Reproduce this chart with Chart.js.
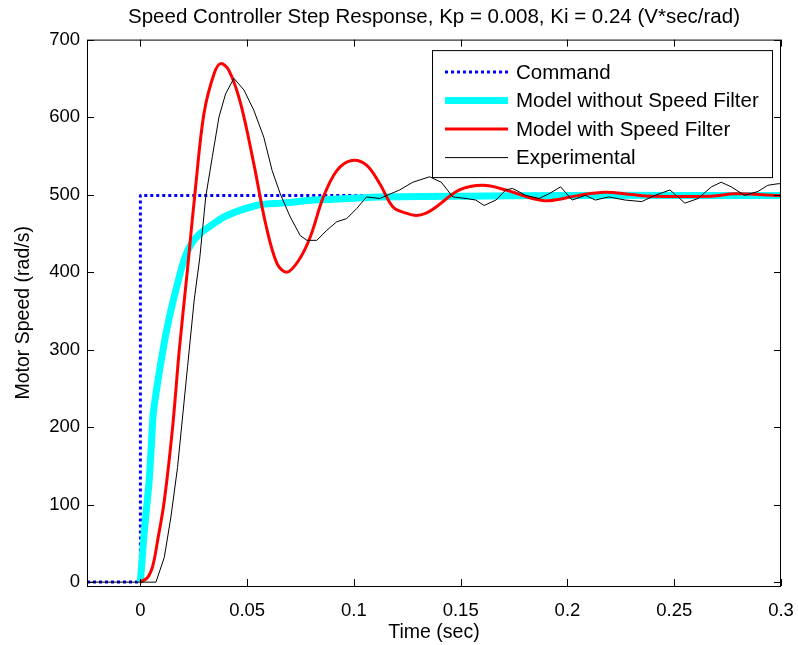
<!DOCTYPE html>
<html>
<head>
<meta charset="utf-8">
<script src="https://cdn.jsdelivr.net/npm/chart.js@4.4.1/dist/chart.umd.min.js"></script>
<style>
  html, body { margin: 0; padding: 0; background: #fff; }
</style>
</head>
<body>
<canvas id="speedChart" width="798" height="645"></canvas>
<script>
// axis ticks
const xTicks = [0, 0.05, 0.1, 0.15, 0.2, 0.25, 0.3];
const xTickLabels = ['0', '0.05', '0.1', '0.15', '0.2', '0.25', '0.3'];
const yTicks = [0, 100, 200, 300, 400, 500, 600, 700];
const yTickLabels = ['0', '100', '200', '300', '400', '500', '600', '700'];

// Command (step)
const cmdX = [-0.025, 0, 0, 0.3];
const cmdY = [0, 0, 499, 499];

// Model without Speed Filter
const noFiltX = [0, 0.002, 0.004, 0.005, 0.006, 0.008, 0.010, 0.012, 0.015, 0.019, 0.021, 0.024, 0.028, 0.033, 0.039, 0.047, 0.056, 0.066, 0.081, 0.097, 0.112, 0.15, 0.2, 0.25, 0.3];
const noFiltY = [0, 71, 127, 170, 217, 256, 290, 321, 359, 402, 420, 437, 450, 460, 471, 480, 487, 489, 493, 495, 497, 498, 499, 499, 499];

// Model with Speed Filter
const filtX = [0, 0.0034, 0.0058, 0.0081, 0.0112, 0.0151, 0.0182, 0.022, 0.026, 0.0298, 0.0345, 0.0376, 0.0415, 0.0469, 0.0531, 0.0586, 0.064, 0.0687, 0.0741, 0.0795, 0.0857, 0.092, 0.099, 0.1059, 0.1121, 0.1183, 0.1245, 0.1292, 0.1338, 0.1385, 0.1494, 0.1603, 0.1711, 0.1836, 0.1913, 0.2053, 0.2177, 0.2301, 0.2394, 0.2674, 0.2783, 0.2985, 0.3];
const filtY = [0, 6, 21, 54, 105, 200, 299, 402, 514, 605, 656, 669, 660, 618, 540, 463, 411, 400, 415, 445, 497, 531, 544, 538, 514, 484, 476, 473, 476, 484, 506, 512, 506, 495, 492, 499, 503, 500, 498, 498, 501, 499, 499];

// Experimental
const expX = [-0.025, 0.0073, 0.0112, 0.0143, 0.0174, 0.0221, 0.0252, 0.0278, 0.0306, 0.0337, 0.0368, 0.0399, 0.0438, 0.0485, 0.0531, 0.0578, 0.0617, 0.0655, 0.0702, 0.0749, 0.078, 0.0826, 0.0873, 0.092, 0.0966, 0.1013, 0.1059, 0.1121, 0.1214, 0.1276, 0.1354, 0.1409, 0.1463, 0.1525, 0.157, 0.161, 0.1665, 0.1711, 0.1742, 0.1805, 0.1867, 0.1913, 0.1968, 0.2022, 0.2084, 0.2131, 0.2193, 0.227, 0.2348, 0.241, 0.248, 0.255, 0.2612, 0.2674, 0.272, 0.2767, 0.283, 0.2892, 0.2938, 0.2985, 0.3];
const expY = [0, 0, 32, 84, 148, 278, 364, 418, 497, 549, 600, 630, 650, 635, 609, 574, 531, 501, 471, 447, 441, 441, 454, 465, 469, 482, 497, 495, 506, 516, 523, 516, 497, 495, 493, 486, 493, 506, 508, 499, 495, 501, 510, 493, 499, 493, 497, 493, 491, 499, 506, 489, 495, 510, 516, 510, 499, 504, 512, 514, 514];

const pts = (xs, ys) => xs.map((x, i) => ({ x: x, y: ys[i] }));
const FONT = "'Liberation Sans', Arial, sans-serif";

// box, inward ticks and legend, MATLAB style
const frameAndLegend = {
    id: 'frameAndLegend',
    afterDatasetsDraw(chart) {
        const { ctx, chartArea: a, scales: { x, y } } = chart;
        ctx.save();
        ctx.strokeStyle = '#000';
        ctx.lineWidth = 1;
        ctx.setLineDash([]);
        ctx.strokeRect(a.left + 0.5, a.top + 0.5, a.right - a.left - 1, a.bottom - a.top);
        ctx.beginPath();
        xTicks.forEach(v => {
            const px = Math.round(x.getPixelForValue(v)) + 0.5;
            ctx.moveTo(px, a.bottom); ctx.lineTo(px, a.bottom - 7);
            ctx.moveTo(px, a.top); ctx.lineTo(px, a.top + 7);
        });
        yTicks.forEach(v => {
            const py = Math.round(y.getPixelForValue(v)) + 0.5;
            ctx.moveTo(a.left, py); ctx.lineTo(a.left + 7, py);
            ctx.moveTo(a.right, py); ctx.lineTo(a.right - 7, py);
        });
        ctx.stroke();

        // legend
        const bx = a.right - 349, by = a.top + 10.5, bw = 340, bh = 127;
        ctx.fillStyle = '#fff';
        ctx.fillRect(bx, by, bw, bh);
        ctx.strokeRect(bx + 0.5, by + 0.5, bw, bh);
        ctx.font = '20.5px ' + FONT;
        ctx.textBaseline = 'middle';
        ctx.textAlign = 'left';
        chart.data.datasets.forEach((ds, i) => {
            const ly = by + 22 + i * 28.5;
            ctx.beginPath();
            ctx.strokeStyle = ds.borderColor;
            ctx.lineWidth = ds.borderWidth;
            ctx.setLineDash(ds.borderDash || []);
            ctx.moveTo(bx + 13, ly);
            ctx.lineTo(bx + 76, ly);
            ctx.stroke();
            ctx.fillStyle = '#000';
            ctx.fillText(ds.label, bx + 84, ly + 1);
        });
        ctx.restore();
    }
};

new Chart(document.getElementById('speedChart'), {
    type: 'line',
    data: {
        datasets: [
            { label: 'Command', data: pts(cmdX, cmdY), borderColor: '#0000ff', borderWidth: 3, borderDash: [3, 3], tension: 0, order: 4 },
            { label: 'Model without Speed Filter', data: pts(noFiltX, noFiltY), borderColor: '#00ffff', borderWidth: 7, tension: 0.2, order: 3 },
            { label: 'Model with Speed Filter', data: pts(filtX, filtY), borderColor: '#ff0000', borderWidth: 3, tension: 0.35, order: 2 },
            { label: 'Experimental', data: pts(expX, expY), borderColor: '#000000', borderWidth: 1, tension: 0, order: 1 }
        ]
    },
    options: {
        responsive: false,
        animation: false,
        events: [],
        elements: { point: { radius: 0 }, line: { borderJoinStyle: 'round' } },
        layout: { padding: { left: 0, right: 17, top: 0, bottom: 0 } },
        plugins: {
            legend: { display: false },
            tooltip: { enabled: false },
            title: {
                display: true,
                fullSize: false,
                text: 'Speed Controller Step Response, Kp = 0.008, Ki = 0.24 (V*sec/rad)',
                color: '#000',
                font: { family: FONT, size: 20.5, weight: 'normal' },
                padding: { top: 5, bottom: 10 }
            }
        },
        scales: {
            x: {
                type: 'linear',
                min: -0.025,
                max: 0.3,
                afterBuildTicks: s => { s.ticks = xTicks.map(v => ({ value: v })); },
                afterFit: s => { s.height = 59; s.paddingLeft = 0; s.paddingRight = 0; },
                grid: { display: false, drawTicks: false },
                border: { display: false },
                ticks: {
                    color: '#000',
                    padding: 14,
                    maxRotation: 0,
                    autoSkip: false,
                    font: { family: FONT, size: 18.5 },
                    callback: (v, i) => xTickLabels[i]
                },
                title: {
                    display: true,
                    text: 'Time (sec)',
                    color: '#000',
                    font: { family: FONT, size: 19.5 },
                    padding: { top: 0, bottom: 1 }
                }
            },
            y: {
                min: -5,
                max: 700,
                afterBuildTicks: s => { s.ticks = yTicks.map(v => ({ value: v })); },
                afterFit: s => { s.width = 87; s.paddingTop = 0; s.paddingBottom = 0; },
                grid: { display: false, drawTicks: false },
                border: { display: false },
                ticks: {
                    color: '#000',
                    padding: 7,
                    autoSkip: false,
                    font: { family: FONT, size: 18.5 },
                    callback: (v, i) => yTickLabels[i]
                },
                title: {
                    display: true,
                    text: 'Motor Speed (rad/s)',
                    color: '#000',
                    font: { family: FONT, size: 19.5 },
                    padding: { top: 12, bottom: 0 }
                }
            }
        }
    },
    plugins: [frameAndLegend]
});
</script>
</body>
</html>
